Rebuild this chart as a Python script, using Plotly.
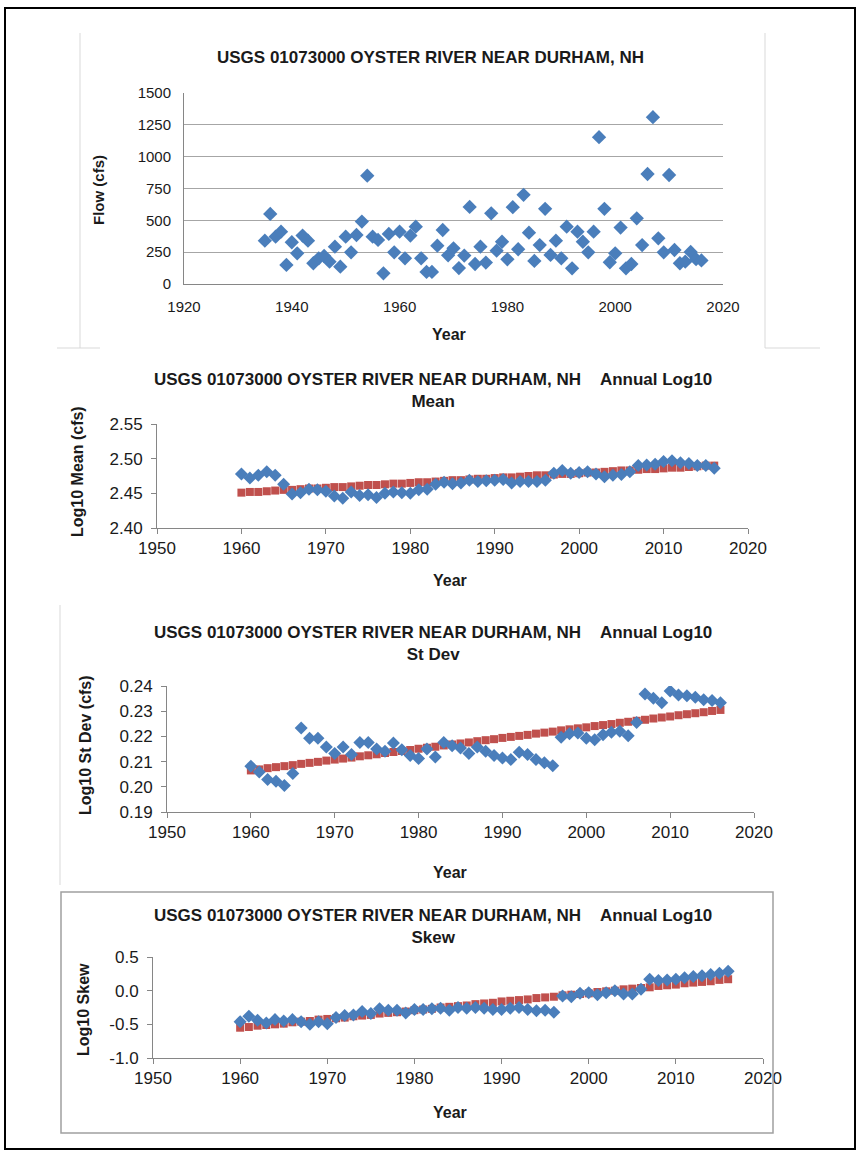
import plotly.graph_objects as go

W, H = 860, 1152

# ---------------- data ----------------
flow_years = list(range(1935, 2017))
flow_cfs = [340, 550, 372, 411, 150, 328, 241, 380, 340, 163,
            202, 220, 175, 293, 136, 372, 249, 385, 490, 851,
            372, 346, 84, 393, 249, 411, 202, 380, 450, 202,
            95, 95, 301, 424, 225, 280, 125, 223, 605, 157,
            293, 168, 555, 262, 332, 194, 603, 273, 700, 403,
            181, 306, 590, 228, 340, 202, 450, 123, 411, 332,
            249, 411, 1153, 590, 171, 241, 443, 123, 157, 516,
            306, 864, 1310, 359, 249, 856, 267, 163, 175, 252,
            195, 185]

stat_years = list(range(1960, 2017))

mean_log = [2.478, 2.472, 2.476, 2.481, 2.476, 2.463, 2.449, 2.451, 2.456, 2.455,
            2.453, 2.446, 2.443, 2.452, 2.447, 2.448, 2.444, 2.450, 2.452, 2.451,
            2.450, 2.455, 2.456, 2.463, 2.466, 2.464, 2.465, 2.469, 2.467, 2.468,
            2.469, 2.470, 2.465, 2.467, 2.467, 2.467, 2.469, 2.479, 2.483, 2.479,
            2.480, 2.481, 2.478, 2.474, 2.476, 2.477, 2.481, 2.490, 2.491, 2.492,
            2.496, 2.497, 2.494, 2.493, 2.490, 2.490, 2.486]
mean_trend = [2.451, 2.452, 2.452, 2.453, 2.454, 2.455, 2.455, 2.456, 2.457, 2.457,
              2.458, 2.459, 2.459, 2.460, 2.461, 2.462, 2.462, 2.463, 2.464, 2.464,
              2.465, 2.466, 2.466, 2.467, 2.468, 2.469, 2.469, 2.470, 2.471, 2.471,
              2.472, 2.473, 2.473, 2.474, 2.475, 2.476, 2.476, 2.477, 2.478, 2.478,
              2.479, 2.480, 2.480, 2.481, 2.482, 2.483, 2.483, 2.484, 2.485, 2.485,
              2.486, 2.487, 2.487, 2.488, 2.489, 2.490, 2.490]

sd_log = [0.2082, 0.2059, 0.2029, 0.2022, 0.2005, 0.2053, 0.2233, 0.2193, 0.2193, 0.2158,
          0.2132, 0.2158, 0.2128, 0.2176, 0.2176, 0.2150, 0.2141, 0.2174, 0.2147, 0.2124,
          0.2112, 0.2150, 0.2118, 0.2176, 0.2163, 0.2154, 0.2132, 0.2158, 0.2141, 0.2124,
          0.2114, 0.2108, 0.2137, 0.2128, 0.2108, 0.2095, 0.2084, 0.2197, 0.2211, 0.2213,
          0.2193, 0.2187, 0.2207, 0.2216, 0.2220, 0.2203, 0.2255, 0.2368, 0.2351, 0.2334,
          0.2380, 0.2364, 0.2361, 0.2355, 0.2345, 0.2342, 0.2334]
sd_trend = [0.2065, 0.2069, 0.2074, 0.2078, 0.2082, 0.2086, 0.2091, 0.2095, 0.2099, 0.2104,
            0.2108, 0.2112, 0.2116, 0.2121, 0.2125, 0.2129, 0.2134, 0.2138, 0.2142, 0.2146,
            0.2151, 0.2155, 0.2159, 0.2164, 0.2168, 0.2172, 0.2176, 0.2181, 0.2185, 0.2189,
            0.2194, 0.2198, 0.2202, 0.2206, 0.2211, 0.2215, 0.2219, 0.2224, 0.2228, 0.2232,
            0.2236, 0.2241, 0.2245, 0.2249, 0.2254, 0.2258, 0.2262, 0.2266, 0.2271, 0.2275,
            0.2279, 0.2284, 0.2288, 0.2292, 0.2296, 0.2301, 0.2305]

skew_log = [-0.46, -0.38, -0.44, -0.48, -0.43, -0.45, -0.43, -0.46, -0.50, -0.46,
            -0.49, -0.40, -0.37, -0.36, -0.31, -0.34, -0.27, -0.29, -0.29, -0.33,
            -0.28, -0.28, -0.27, -0.26, -0.29, -0.25, -0.26, -0.25, -0.26, -0.28,
            -0.28, -0.26, -0.25, -0.28, -0.30, -0.29, -0.32, -0.08, -0.09, -0.04,
            -0.03, -0.06, -0.03, 0.00, -0.05, -0.05, 0.02, 0.17, 0.15, 0.16,
            0.17, 0.19, 0.21, 0.22, 0.24, 0.26, 0.29]
skew_trend = [-0.55, -0.54, -0.52, -0.51, -0.50, -0.49, -0.47, -0.46, -0.45, -0.43,
              -0.42, -0.41, -0.40, -0.38, -0.37, -0.36, -0.34, -0.33, -0.32, -0.31,
              -0.29, -0.28, -0.27, -0.25, -0.24, -0.23, -0.22, -0.20, -0.19, -0.18,
              -0.16, -0.15, -0.14, -0.13, -0.11, -0.10, -0.09, -0.07, -0.06, -0.05,
              -0.04, -0.02, -0.01, 0.00, 0.02, 0.03, 0.04, 0.05, 0.07, 0.08,
              0.09, 0.11, 0.12, 0.13, 0.14, 0.16, 0.17]

flow_yticks = [0, 250, 500, 750, 1000, 1250, 1500]
flow_xticks = [1920, 1940, 1960, 1980, 2000, 2020]
stat_xticks = [1950, 1960, 1970, 1980, 1990, 2000, 2010, 2020]
mean_yticks = [2.40, 2.45, 2.50, 2.55]
sd_yticks = [0.19, 0.20, 0.21, 0.22, 0.23, 0.24]
skew_yticks = [-1.0, -0.5, 0.0, 0.5]

STATION = "USGS 01073000 OYSTER RIVER NEAR DURHAM, NH"

# ---------------- style ----------------
FONT = "Liberation Sans, Arial, sans-serif"
BLUE = "#4a7ebb"
RED = "#c0504d"
AXIS = "#868686"
TXT = "#1a1a1a"


def px(x):
    return x / W


def py(y):
    return 1 - y / H


fig = go.Figure()

# panel geometry in pixels: (x0, x1, ytop, ybottom)
geo = {
    1: (184, 723, 93, 284),
    2: (157, 748, 424, 528),
    3: (167, 754, 686, 812),
    4: (153, 763, 957, 1058),
}


def add_axes(n, xr, yr, xt, yt, ytfmt, grid, tfs, tick_col, tlen, ystand):
    x0, x1, yt0, yb = geo[n]
    sx = "" if n == 1 else str(n)
    common = dict(showline=True, linecolor=AXIS, linewidth=1, ticks="outside",
                  tickcolor=tick_col, ticklen=tlen, automargin=False,
                  tickfont=dict(family=FONT, size=tfs, color=TXT),
                  zeroline=False, fixedrange=True)
    fig.update_layout(**{
        "xaxis" + sx: dict(domain=[px(x0), px(x1)], range=xr, tickvals=xt,
                           anchor="y" + sx, showgrid=False, **common),
        "yaxis" + sx: dict(domain=[py(yb), py(yt0)], range=yr, tickvals=yt,
                           ticktext=[ytfmt(v) for v in yt], anchor="x" + sx,
                           ticklabelstandoff=ystand,
                           showgrid=grid, gridcolor="#a6a6a6", gridwidth=1, **common),
    })


add_axes(1, [1920, 2020], [0, 1500], flow_xticks, flow_yticks, lambda v: f"{v}", True, 15,
         "rgba(0,0,0,0)", 9, 0)
add_axes(2, [1950, 2020], [2.40, 2.55], stat_xticks, mean_yticks, lambda v: f"{v:.2f}", False, 17, AXIS, 5, 5)
add_axes(3, [1950, 2020], [0.19, 0.24], stat_xticks, sd_yticks, lambda v: f"{v:.2f}", False, 17, AXIS, 5, 5)
add_axes(4, [1950, 2020], [-1.0, 0.5], stat_xticks, skew_yticks, lambda v: f"{v:.1f}", False, 17, AXIS, 5, 5)

# ---------------- traces ----------------
fig.add_trace(go.Scatter(x=flow_years, y=flow_cfs, mode="markers", xaxis="x", yaxis="y",
                         marker=dict(symbol="diamond", size=11, color=BLUE)))

for n, vals, trend in [(2, mean_log, mean_trend), (3, sd_log, sd_trend), (4, skew_log, skew_trend)]:
    fig.add_trace(go.Scatter(x=stat_years, y=trend, mode="markers", xaxis="x" + str(n), yaxis="y" + str(n),
                             marker=dict(symbol="square", size=8, color=RED)))
    fig.add_trace(go.Scatter(x=stat_years, y=vals, mode="markers", xaxis="x" + str(n), yaxis="y" + str(n),
                             marker=dict(symbol="diamond", size=10, color=BLUE)))

# ---------------- text ----------------
ann = []


def text(x, y, s, size, bold=True, angle=0):
    ann.append(dict(x=px(x), y=py(y), xref="paper", yref="paper", text=(f"<b>{s}</b>" if bold else s),
                    showarrow=False, textangle=angle, xanchor="center", yanchor="middle",
                    font=dict(family=FONT, size=size, color=TXT)))


text(430, 58, STATION, 17)
text(98, 190, "Flow (cfs)", 15, angle=-90)
text(449, 334, "Year", 16)

for lbl, ty, yx, yy, yeary, ylab in [
    ("Mean", 390, 77, 472, 580, "Log10 Mean (cfs)"),
    ("St Dev", 643, 85, 745, 872, "Log10 St Dev (cfs)"),
    ("Skew", 926, 83, 1010, 1112, "Log10 Skew"),
]:
    ann.append(dict(x=px(433), y=py(ty), xref="paper", yref="paper",
                    text=f"<b>{STATION}&nbsp;&nbsp;&nbsp;&nbsp;Annual Log10<br>{lbl}</b>",
                    showarrow=False, align="center", xanchor="center", yanchor="middle",
                    font=dict(family=FONT, size=17, color=TXT)))
    text(yx, yy, ylab, 16, angle=-90)
    text(450, yeary, "Year", 16)

# ---------------- frames ----------------
shapes = [
    dict(type="rect", xref="paper", yref="paper", x0=px(5), x1=px(855), y0=py(1149), y1=py(8),
         line=dict(color="black", width=2)),
    dict(type="line", xref="paper", yref="paper", x0=px(80), x1=px(80), y0=py(348), y1=py(33),
         line=dict(color="#d9d9d9", width=1)),
    dict(type="line", xref="paper", yref="paper", x0=px(765), x1=px(765), y0=py(348), y1=py(33),
         line=dict(color="#d9d9d9", width=1)),
    dict(type="line", xref="paper", yref="paper", x0=px(57), x1=px(100), y0=py(348), y1=py(348),
         line=dict(color="#d9d9d9", width=1)),
    dict(type="line", xref="paper", yref="paper", x0=px(765), x1=px(820), y0=py(348), y1=py(348),
         line=dict(color="#d9d9d9", width=1)),
    dict(type="line", xref="paper", yref="paper", x0=px(60), x1=px(60), y0=py(885), y1=py(605),
         line=dict(color="#d9d9d9", width=1)),
    dict(type="rect", xref="paper", yref="paper", x0=px(61), x1=px(773), y0=py(1133), y1=py(892),
         line=dict(color="#a0a0a0", width=1.5)),
]

fig.update_layout(width=W, height=H, margin=dict(l=0, r=0, t=0, b=0, autoexpand=False),
                  paper_bgcolor="white", plot_bgcolor="white", showlegend=False,
                  annotations=ann, shapes=shapes)

fig.write_html("out.html", config={"displayModeBar": False},
               post_script="document.body.style.margin='0px';document.body.style.overflow='hidden';")
